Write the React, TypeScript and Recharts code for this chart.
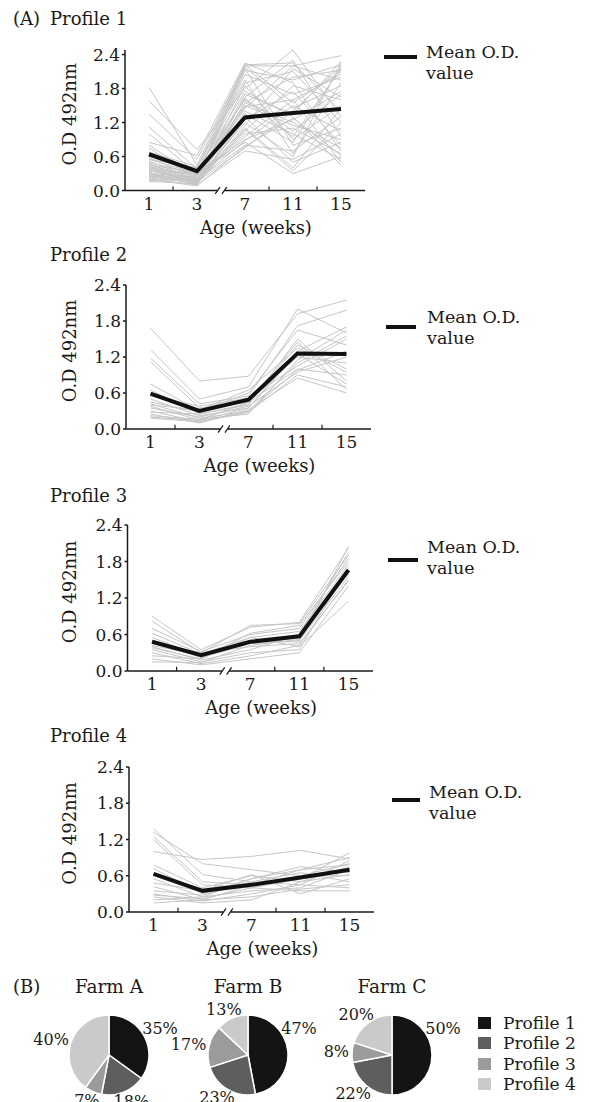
import React from 'react';
import {
  LineChart, Line, XAxis, YAxis, ReferenceLine, Legend,
  PieChart, Pie, Cell,
} from 'recharts';

// ---------------- data ----------------
const weeks = ['1', '3', '7', '11', '15'];
const yTicks = [0, 0.6, 1.2, 1.8, 2.4];

const profile1Mean = [0.64, 0.34, 1.29, 1.37, 1.44];
const profile1Lines: number[][] = [
  [1.82, 0.45, 2.22, 1.55, 2.10],
  [1.58, 0.72, 1.80, 2.48, 1.30],
  [1.35, 0.55, 2.20, 2.20, 2.38],
  [1.12, 0.38, 1.60, 0.95, 2.15],
  [1.00, 0.30, 0.85, 0.30, 0.60],
  [0.85, 0.62, 2.25, 1.90, 0.70],
  [0.80, 0.25, 1.45, 2.20, 1.95],
  [0.75, 0.20, 1.20, 0.60, 2.25],
  [0.62, 0.35, 1.75, 1.30, 0.45],
  [0.58, 0.22, 0.95, 1.60, 2.05],
  [0.55, 0.40, 2.15, 0.80, 1.10],
  [0.52, 0.18, 1.05, 1.85, 1.60],
  [0.50, 0.28, 1.50, 1.15, 0.90],
  [0.48, 0.15, 0.75, 1.40, 2.20],
  [0.45, 0.32, 1.90, 2.10, 1.20],
  [0.43, 0.12, 1.30, 0.50, 0.85],
  [0.40, 0.26, 2.05, 1.70, 2.00],
  [0.38, 0.20, 1.10, 0.40, 1.45],
  [0.36, 0.15, 1.65, 2.30, 0.95],
  [0.34, 0.30, 0.90, 1.25, 1.75],
  [0.32, 0.10, 1.40, 1.00, 0.55],
  [0.30, 0.24, 2.18, 1.45, 1.85],
  [0.28, 0.18, 0.80, 0.70, 1.30],
  [0.27, 0.12, 1.55, 2.00, 2.12],
  [0.25, 0.22, 1.00, 1.10, 0.65],
  [0.24, 0.16, 1.85, 0.90, 1.50],
  [0.22, 0.14, 1.25, 1.75, 0.80],
  [0.20, 0.10, 0.70, 0.55, 1.00],
  [0.18, 0.20, 1.70, 1.35, 2.28],
  [0.16, 0.12, 1.15, 2.15, 1.65],
  [0.42, 0.28, 1.35, 0.85, 2.18],
  [0.60, 0.33, 2.22, 2.25, 1.40],
  [0.46, 0.20, 1.55, 1.20, 0.75],
  [0.35, 0.18, 0.88, 1.50, 1.05],
  [0.68, 0.42, 1.95, 0.65, 1.90],
  [0.30, 0.15, 1.48, 1.60, 0.50],
  [0.26, 0.25, 2.12, 1.95, 2.22],
  [0.40, 0.12, 1.08, 0.35, 1.20],
  [0.55, 0.30, 1.62, 1.05, 1.70],
  [0.20, 0.08, 0.78, 1.28, 0.62],
];

const profile2Mean = [0.59, 0.30, 0.49, 1.26, 1.25];
const profile2Lines: number[][] = [
  [1.68, 0.80, 0.88, 1.92, 2.15],
  [1.32, 0.50, 0.70, 2.00, 1.60],
  [1.18, 0.42, 0.55, 1.72, 1.98],
  [1.12, 0.35, 0.45, 1.45, 0.65],
  [0.75, 0.30, 0.60, 1.65, 1.40],
  [0.65, 0.25, 0.40, 1.50, 0.80],
  [0.50, 0.22, 0.35, 1.30, 1.70],
  [0.45, 0.28, 0.50, 1.20, 1.10],
  [0.42, 0.18, 0.30, 1.10, 1.55],
  [0.38, 0.15, 0.45, 1.00, 0.90],
  [0.35, 0.20, 0.38, 0.95, 1.20],
  [0.30, 0.12, 0.28, 0.90, 0.70],
  [0.28, 0.25, 0.42, 1.40, 1.00],
  [0.25, 0.10, 0.32, 0.85, 0.60],
  [0.22, 0.16, 0.25, 1.15, 1.65],
  [0.20, 0.14, 0.35, 1.25, 0.75],
  [0.18, 0.12, 0.30, 0.98, 1.30],
  [0.40, 0.32, 0.65, 1.35, 0.95],
  [0.55, 0.38, 0.52, 1.05, 1.50],
];

const profile3Mean = [0.48, 0.26, 0.48, 0.57, 1.66];
const profile3Lines: number[][] = [
  [0.90, 0.35, 0.72, 0.80, 2.02],
  [0.82, 0.30, 0.75, 0.78, 1.90],
  [0.70, 0.32, 0.60, 0.70, 1.85],
  [0.62, 0.28, 0.55, 0.65, 1.75],
  [0.55, 0.25, 0.50, 0.55, 1.60],
  [0.50, 0.22, 0.45, 0.50, 1.55],
  [0.45, 0.30, 0.40, 0.45, 1.48],
  [0.40, 0.18, 0.35, 0.60, 1.95],
  [0.38, 0.20, 0.55, 0.40, 1.15],
  [0.35, 0.15, 0.30, 0.35, 1.70],
  [0.30, 0.12, 0.25, 0.42, 1.50],
  [0.25, 0.20, 0.62, 0.75, 1.80],
  [0.20, 0.10, 0.20, 0.30, 1.40],
  [0.15, 0.14, 0.42, 0.52, 1.65],
  [0.42, 0.26, 0.48, 0.48, 2.05],
];

const profile4Mean = [0.63, 0.35, 0.45, 0.57, 0.70];
const profile4Lines: number[][] = [
  [1.38, 0.62, 0.50, 0.45, 0.85],
  [1.32, 0.80, 0.70, 0.60, 0.80],
  [1.25, 0.50, 0.45, 0.70, 0.90],
  [1.20, 0.45, 0.40, 0.55, 0.98],
  [1.00, 0.87, 0.92, 1.02, 0.88],
  [0.78, 0.40, 0.60, 0.50, 0.75],
  [0.72, 0.30, 0.55, 0.75, 0.65],
  [0.55, 0.25, 0.35, 0.40, 0.70],
  [0.48, 0.35, 0.62, 0.30, 0.55],
  [0.42, 0.20, 0.45, 0.60, 0.60],
  [0.35, 0.28, 0.50, 0.65, 0.50],
  [0.30, 0.18, 0.30, 0.45, 0.40],
  [0.28, 0.22, 0.40, 0.35, 0.35],
  [0.25, 0.15, 0.20, 0.50, 0.62],
  [0.20, 0.25, 0.55, 0.70, 0.78],
  [0.15, 0.20, 0.25, 0.38, 0.45],
  [0.62, 0.38, 0.48, 0.55, 0.68],
];

const profileNames = ['Profile 1', 'Profile 2', 'Profile 3', 'Profile 4'];
const farmNames = ['Farm A', 'Farm B', 'Farm C'];
const farmA = [35, 18, 7, 40];
const farmB = [47, 23, 17, 13];
const farmC = [50, 22, 8, 20];

// ---------------- styles / layout ----------------
const FONT = '"DejaVu Serif", serif';
const INK = '#1a1a1a';
const GREY = '#c6c6c6';
const sliceColors = ['#141414', '#5e5e5e', '#9b9b9b', '#cacaca'];

const profileLayouts = [
  { plotTop: 50, plotBottom: 190.5, plotLeft: 125, plotRight: 365, titleBase: 25, prefix: '(A)',
    lg: { x1: 384, x2: 417, y: 57, tx: 426, cap: 52 } },
  { plotTop: 285, plotBottom: 429, plotLeft: 126, plotRight: 371, titleBase: 260.7, prefix: '',
    lg: { x1: 386, x2: 416, y: 327, tx: 427, cap: 317 } },
  { plotTop: 525, plotBottom: 671, plotLeft: 127.5, plotRight: 373, titleBase: 501.7, prefix: '',
    lg: { x1: 388, x2: 418, y: 560, tx: 427, cap: 547 } },
  { plotTop: 767, plotBottom: 912, plotLeft: 129, plotRight: 374, titleBase: 741.7, prefix: '',
    lg: { x1: 392, x2: 420, y: 800, tx: 429, cap: 792 } },
];

const profilesLines = [profile1Lines, profile2Lines, profile3Lines, profile4Lines];
const profilesMean = [profile1Mean, profile2Mean, profile3Mean, profile4Mean];

function buildRows(lines: number[][], mean: number[]) {
  return weeks.map((w, i) => {
    const row: Record<string, number | string> = { idx: i + 0.5, week: w, mean: mean[i] };
    lines.forEach((l, j) => { row['s' + j] = l[i]; });
    return row;
  });
}

const TOP_PAD = 10;
const XAXIS_H = 60;
const LG_FS = 17.5;
const LG_LH = 20.5;

function ProfileChart({ k }: { k: number }) {
  const L = profileLayouts[k];
  const lines = profilesLines[k];
  const rows = buildRows(lines, profilesMean[k]);
  const plotH = L.plotBottom - L.plotTop;
  const chartTop = L.plotTop - TOP_PAD;
  const height = TOP_PAD + plotH + XAXIS_H;
  const legendTop = L.lg.cap - 9.9;
  const axisStroke = { stroke: INK, strokeWidth: 1.5 };

  const legendContent = () => (
    <div style={{ position: 'relative', width: 200, height: 44, fontFamily: FONT, fontSize: LG_FS, lineHeight: LG_LH + 'px', color: INK }}>
      <div style={{ position: 'absolute', left: 0, top: L.lg.y - 2.25 - legendTop, width: L.lg.x2 - L.lg.x1, height: 4.5, background: '#111' }} />
      <div style={{ position: 'absolute', left: L.lg.tx - L.lg.x1, top: 0, whiteSpace: 'nowrap' }}>Mean O.D.<br />value</div>
    </div>
  );

  return (
    <div style={{ position: 'absolute', left: 0, top: chartTop }}>
      <LineChart width={589} height={height} data={rows}
        margin={{ top: TOP_PAD, right: 589 - L.plotRight, bottom: 0, left: 0 }}>
        <XAxis type="number" dataKey="idx" domain={[0, 5]} ticks={[0.5, 1.5, 2.5, 3.5, 4.5]} interval={0}
          tickFormatter={(v: number) => weeks[Math.floor(v)]} axisLine={false} tickLine={false}
          tickSize={0} tickMargin={7} height={XAXIS_H}
          tick={{ fill: INK, fontSize: 17, fontFamily: FONT }}
          label={{ value: 'Age (weeks)', position: 'center', dx: 11, dy: 7, fill: INK, fontSize: 18, fontFamily: FONT }} />
        <YAxis type="number" domain={[0, 2.4]} ticks={yTicks} interval={0} width={L.plotLeft}
          tickFormatter={(v: number) => v.toFixed(1)} axisLine={axisStroke} tickLine={axisStroke}
          tickSize={3} tickMargin={2}
          tick={{ fill: INK, fontSize: 17, fontFamily: FONT }}
          label={{ value: 'O.D 492nm', angle: -90, position: 'center', dx: 70 - L.plotLeft / 2, dy: -6, fill: INK, fontSize: 18, fontFamily: FONT }} />
        {lines.map((_, j) => (
          <Line key={j} type="linear" dataKey={'s' + j} stroke={GREY} strokeWidth={1} dot={false}
            activeDot={false} isAnimationActive={false} legendType="none" />
        ))}
        <Line type="linear" dataKey="mean" stroke="#111" strokeWidth={4} dot={false}
          activeDot={false} isAnimationActive={false} />
        {/* x axis with break */}
        <ReferenceLine segment={[{ x: 0, y: 0 }, { x: 1.93, y: 0 }]} stroke={INK} strokeWidth={1.5} ifOverflow="visible" />
        <ReferenceLine segment={[{ x: 2.07, y: 0 }, { x: 5, y: 0 }]} stroke={INK} strokeWidth={1.5} ifOverflow="visible" />
        <ReferenceLine segment={[{ x: 1.88, y: -0.06 }, { x: 1.98, y: 0.06 }]} stroke={INK} strokeWidth={1.2} ifOverflow="visible" />
        <ReferenceLine segment={[{ x: 2.02, y: -0.06 }, { x: 2.12, y: 0.06 }]} stroke={INK} strokeWidth={1.2} ifOverflow="visible" />
        {[1, 3, 4].map((m) => (
          <ReferenceLine key={m} segment={[{ x: m, y: 0 }, { x: m, y: 0.07 }]} stroke={INK} strokeWidth={1.2} ifOverflow="visible" />
        ))}
        <Legend layout="vertical" align="center" verticalAlign="middle" content={legendContent}
          wrapperStyle={{ left: L.lg.x1, top: legendTop - chartTop, width: 200, height: 44 }} />
      </LineChart>
    </div>
  );
}

const titleStyle: React.CSSProperties = {
  position: 'absolute', fontFamily: FONT, fontSize: 18, lineHeight: '18px', color: INK, whiteSpace: 'nowrap',
};

const PIE_LABEL_FS = 16;

function PieLabel(props: any) {
  const { cx, cy, midAngle, outerRadius, value } = props;
  const RAD = Math.PI / 180;
  // labels on the right-hand side sit a little above the horizontal
  const ang = Math.abs(midAngle) < 33 ? 33 : midAngle;
  const c = Math.cos(-ang * RAD);
  const s = Math.sin(-ang * RAD);
  const txt = value + '%';
  const w = (String(value).length * 0.64 + 0.95) * PIE_LABEL_FS;
  const h = 13;
  const r = outerRadius + 3;
  const x = cx + r * c + c * w / 2;
  const y = cy + r * s + s * h / 2;
  return (
    <text x={x} y={y} textAnchor="middle" dominantBaseline="central" fill={INK} fontSize={PIE_LABEL_FS} fontFamily={FONT}>
      {txt}
    </text>
  );
}

const PIE_TOP = 960;
const pieCenters = [109, 248, 392];
const farmValues = [farmA, farmB, farmC];

function FarmPies() {
  const legendContent = () => (
    <div style={{ fontFamily: FONT, fontSize: 17, lineHeight: '20.3px', color: INK }}>
      {profileNames.map((n, i) => (
        <div key={n} style={{ position: 'relative', height: 20.3, whiteSpace: 'nowrap' }}>
          <span style={{ position: 'absolute', left: 0, top: 4, width: 13, height: 12, background: sliceColors[i] }} />
          <span style={{ position: 'absolute', left: 25, top: 0 }}>{n}</span>
        </div>
      ))}
    </div>
  );
  return (
    <div style={{ position: 'absolute', left: 0, top: PIE_TOP }}>
      <PieChart width={589} height={1102 - PIE_TOP} margin={{ top: 0, right: 0, bottom: 0, left: 0 }}>
        {farmValues.map((vals, f) => (
          <Pie key={f} data={profileNames.map((n, i) => ({ name: n, value: vals[i] }))} dataKey="value" nameKey="name"
            cx={pieCenters[f]} cy={95} outerRadius={40} startAngle={90} endAngle={-270}
            stroke="#ffffff" strokeWidth={1.5} label={PieLabel} labelLine={false} isAnimationActive={false}>
            {vals.map((_, i) => <Cell key={i} fill={sliceColors[i]} />)}
          </Pie>
        ))}
        <Legend layout="vertical" align="center" verticalAlign="middle" content={legendContent}
          wrapperStyle={{ left: 478, top: 1013 - PIE_TOP, width: 110, height: 82 }} />
      </PieChart>
    </div>
  );
}

export default function App() {
  return (
    <div style={{ position: 'absolute', left: 0, top: 0, width: 589, height: 1102, overflow: 'hidden', background: '#fff' }}>
      {profileLayouts.map((L, k) => (
        <React.Fragment key={k}>
          {L.prefix && <div style={{ ...titleStyle, left: 13, top: L.titleBase - 15.2 }}>{L.prefix}</div>}
          <div style={{ ...titleStyle, left: 50, top: L.titleBase - 15.2 }}>{profileNames[k]}</div>
          <ProfileChart k={k} />
        </React.Fragment>
      ))}
      <div style={{ ...titleStyle, left: 13, top: 993 - 15.2 }}>(B)</div>
      {farmNames.map((n, f) => (
        <div key={n} style={{ ...titleStyle, left: pieCenters[f] - 60, width: 120, textAlign: 'center', top: 993 - 15.2, fontSize: 18.5 }}>{n}</div>
      ))}
      <FarmPies />
    </div>
  );
}
